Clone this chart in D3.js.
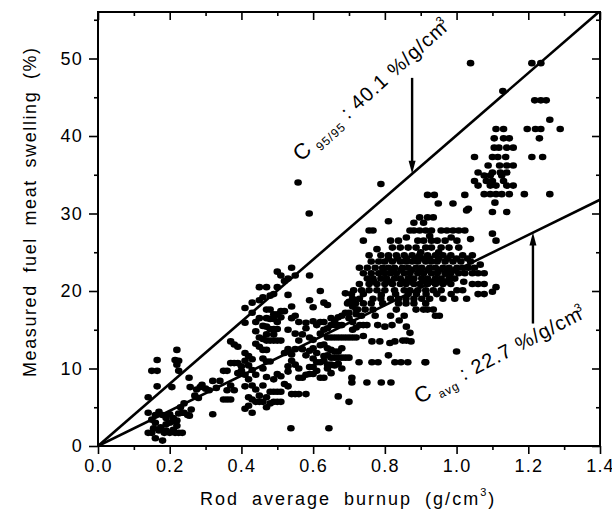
<!DOCTYPE html>
<html>
<head>
<meta charset="utf-8">
<script src="https://cdn.jsdelivr.net/npm/d3@7"></script>
<style>
  body { margin: 0; background: #fff; }
  svg { display: block; }
  text { font-family: "Liberation Sans", Arial, sans-serif; fill: #000; }
</style>
</head>
<body>
<div id="chart"></div>
<script>
// axis ticks
const xTicks = [0.0, 0.2, 0.4, 0.6, 0.8, 1.0, 1.2, 1.4];
const xMinor = [0.1, 0.3, 0.5, 0.7, 0.9, 1.1, 1.3];
const yTicks = [0, 10, 20, 30, 40, 50];
const yMinor = [5, 15, 25, 35, 45, 55];

// fitted lines (%/g/cm3)
const slopeUpper = 40.1;
const slopeAvg = 22.7;

// measured points [burnup, swelling]
const lowBurnup = [
  [0.14,6.3],[0.15,9.7],[0.165,9.7],[0.165,11.1],[0.165,7.7],
  [0.14,4.3],[0.15,3.4],[0.16,4.0],[0.17,4.4],[0.18,4.0],[0.19,3.6],[0.2,4.1],[0.21,3.6],[0.22,3.3],[0.225,4.2],[0.235,4.3],
  [0.16,3.0],[0.175,2.4],[0.19,2.8],[0.2,3.0],[0.21,3.2],[0.22,2.6],
  [0.14,1.7],[0.15,1.7],[0.155,2.3],[0.16,1.0],[0.17,2.0],[0.18,0.7],[0.185,1.7],[0.19,2.0],[0.2,1.7],[0.21,2.1],[0.215,1.7],[0.225,1.7],[0.235,1.7],
  [0.206,7.6],[0.22,12.4],[0.215,11.1],[0.225,11.0],[0.22,10.5],[0.225,9.7],[0.254,8.8],[0.257,7.6],
  [0.24,4.3],[0.25,4.0],[0.26,4.7],[0.24,5.5],[0.23,5.0],[0.255,3.9],[0.27,6.5],[0.28,6.2],[0.285,7.6],[0.275,7.3],
  [0.29,7.9],[0.3,7.4],[0.31,7.2],[0.32,8.4],[0.32,4.1],[0.33,7.5]
];

const midBurnup = [
  [0.34,8.4],[0.35,6.0],[0.36,6.0],[0.37,6.0],[0.36,7.2],[0.37,7.8],[0.38,7.2],[0.35,9.7],[0.36,9.7],[0.37,10.7],[0.38,10.7],[0.39,10.7],
  [0.37,13.5],[0.38,13.1],[0.39,12.8],[0.39,9.4],[0.4,9.7],[0.41,9.2],[0.4,10.3],[0.41,11.0],[0.41,12.0],[0.42,11.6],[0.43,11.2],
  [0.42,10.4],[0.43,9.8],[0.44,9.2],[0.42,8.6],[0.43,7.8],[0.41,7.7],[0.44,7.3],[0.45,6.5],
  [0.41,4.8],[0.42,5.2],[0.43,6.0],[0.44,5.7],[0.45,5.7],[0.46,5.7],[0.43,4.3],[0.42,6.3],
  [0.41,17.8],[0.43,17.2],[0.41,15.9],[0.44,16.0],[0.45,16.5],[0.44,14.8],[0.45,14.0],[0.46,15.5],[0.46,13.8],
  [0.47,13.6],[0.48,13.6],[0.49,13.6],[0.5,13.6],[0.51,13.6],[0.44,13.2],[0.45,12.8],[0.46,12.4],[0.47,12.4],
  [0.43,18.5],[0.45,18.8],[0.46,19.2],[0.45,20.5],[0.47,20.5],[0.48,19.4],[0.49,19.6],[0.47,17.6],[0.48,17.6],
  [0.49,17.0],[0.5,17.0],[0.51,17.4],[0.52,17.4],[0.47,16.5],[0.48,16.4],[0.49,16.4],[0.5,16.0],[0.51,16.6],
  [0.47,15.4],[0.48,15.1],[0.49,15.1],[0.5,15.1],[0.47,14.4],[0.49,14.4],
  [0.46,11.3],[0.47,10.9],[0.48,10.9],[0.46,10.0],[0.47,8.9],[0.49,8.6],[0.46,7.8],[0.48,7.0],[0.49,7.0],[0.5,7.0],
  [0.51,7.0],[0.47,6.3],[0.47,5.0],[0.48,5.5],[0.49,5.7],[0.5,5.7],[0.51,5.7],[0.5,9.3],[0.51,9.0],
  [0.5,22.5],[0.51,22.0],[0.54,23.0],[0.52,21.3],[0.53,21.6],[0.55,22.0],[0.5,20.5],[0.53,19.5],[0.54,18.0],
  [0.53,15.0],[0.55,14.5],[0.54,16.5],[0.55,16.8],[0.52,12.0],[0.53,12.5],[0.54,11.8],[0.55,12.5],[0.54,11.0],
  [0.53,10.3],[0.55,10.5],[0.56,10.0],[0.52,8.0],[0.53,7.7],[0.54,6.7],[0.55,6.7],[0.56,6.7],[0.53,9.6],[0.56,8.8],
  [0.57,8.8],[0.58,9.2],[0.59,9.3],[0.6,9.3],[0.58,6.7],[0.56,13.6],[0.57,14.4],[0.58,15.2],[0.56,16.0],[0.58,15.9],
  [0.59,14.0],[0.6,13.7],[0.59,22.0],[0.59,18.8],[0.6,17.9],[0.6,16.1],[0.61,15.6],[0.57,12.5],[0.58,11.7],[0.59,12.3],
  [0.6,12.6],[0.61,12.0],[0.6,11.3],[0.61,10.8],[0.6,10.2],[0.59,10.2],[0.61,9.7],
  [0.558,34.0],[0.589,30.0],[0.538,2.3]
];

const bandBurnup = [
  [0.62,20.0],[0.63,18.5],[0.64,18.2],[0.62,16.0],[0.63,16.0],[0.62,14.5],[0.63,15.0],[0.64,15.2],[0.65,15.6],[0.66,15.6],
  [0.67,15.6],[0.68,15.6],[0.65,16.5],[0.66,16.2],[0.67,16.6],[0.68,16.8],[0.69,17.2],[0.7,17.2],
  [0.64,14.0],[0.65,14.0],[0.66,14.0],[0.67,14.0],[0.68,14.0],[0.69,14.0],[0.7,14.0],[0.71,14.0],[0.72,14.0],
  [0.62,13.0],[0.63,13.1],[0.64,12.6],[0.65,12.4],[0.66,12.2],[0.67,12.2],[0.68,12.6],
  [0.63,11.6],[0.64,11.7],[0.65,11.4],[0.66,11.4],[0.67,11.4],[0.68,11.4],[0.69,11.4],[0.7,11.4],
  [0.62,10.8],[0.63,11.0],[0.64,10.5],[0.65,10.5],[0.66,10.4],[0.67,10.6],[0.68,10.0],[0.62,8.8],[0.63,8.8],[0.65,9.4],[0.64,10.0],
  [0.69,19.7],[0.7,18.6],[0.71,18.0],[0.72,17.6],[0.7,16.5],[0.71,16.0],[0.72,17.0],[0.71,15.0],[0.72,15.3],
  [0.73,15.6],[0.74,15.6],[0.75,15.6],[0.74,14.2],
  [0.708,8.2],[0.708,8.8],[0.75,8.2],[0.79,8.2],[0.817,8.2],
  [0.728,10.8],[0.764,10.8],[0.781,10.8],[0.828,10.8],[0.845,10.8],[0.864,10.8],[0.912,10.8],
  [0.764,13.5],[0.786,13.5],[0.814,13.3],[0.828,13.5],[0.85,13.6],[0.873,13.5],
  [0.644,2.3],[0.7,5.7],[0.67,6.4],[0.81,11.7],[1.0,12.2]
];

const coreBurnup = [
  [0.756,27.8],[0.767,27.8],[0.87,27.8],[0.881,27.8],[0.897,27.8],[0.914,27.8],[0.93,27.8],[0.957,27.8],[0.973,27.8],[0.99,27.8],[1.006,27.8],[1.023,27.8],
  [0.74,26.5],[0.816,26.5],[0.838,26.5],[0.892,26.5],[0.908,26.5],[0.93,26.5],[0.946,26.5],[0.968,26.5],[1.001,26.5],[1.039,26.7],
  [0.778,25.4],[0.821,25.6],[0.843,25.6],[0.865,25.6],[0.887,25.6],[0.914,25.6],[0.93,25.6],[0.957,25.6],[0.979,25.6],[1.006,25.6],
  [0.756,24.6],[0.789,24.6],[0.81,24.6],[0.832,24.6],[0.854,24.6],[0.876,24.6],[0.897,24.6],[0.919,24.6],[0.941,24.6],[0.962,24.6],[0.984,24.6],[1.017,24.6],[1.044,24.6],
  [0.762,23.8],[0.783,23.8],[0.8,23.8],[0.821,23.8],[0.843,23.8],[0.859,23.8],[0.876,23.8],[0.892,23.8],[0.914,23.8],[0.93,23.8],
  [0.946,23.8],[0.968,23.8],[0.99,23.8],[1.012,23.8],[1.039,23.8],[1.066,23.4],
  [0.729,23.0],[0.751,23.0],[0.773,23.0],[0.794,23.0],[0.81,23.0],[0.827,23.0],[0.849,23.0],[0.865,23.0],[0.887,23.0],
  [0.903,23.0],[0.925,23.0],[0.941,23.0],[0.962,23.0],[0.979,23.0],[1.001,23.0],[1.017,23.0],[1.033,23.0],
  [0.74,22.3],[0.762,22.3],[0.783,22.3],[0.8,22.3],[0.816,22.3],[0.832,22.3],[0.854,22.3],[0.87,22.3],[0.892,22.3],[0.908,22.3],
  [0.93,22.3],[0.946,22.3],[0.968,22.3],[0.984,22.3],[1.006,22.3],[1.023,22.3],[1.044,22.3],[1.06,22.3],[1.077,22.3],
  [0.751,21.6],[0.767,21.6],[0.789,21.6],[0.805,21.6],[0.827,21.6],[0.843,21.6],[0.865,21.6],[0.881,21.6],[0.903,21.6],
  [0.919,21.6],[0.941,21.6],[0.957,21.6],[0.979,21.6],[0.995,21.6],
  [0.729,20.9],[0.756,20.9],[0.778,20.9],[0.8,20.9],[0.821,20.9],[0.843,20.9],[0.859,20.9],[0.881,20.9],[0.897,20.9],
  [0.919,20.9],[0.941,20.9],[0.962,20.9],[0.984,20.9],[1.044,20.9],[1.06,20.9],[1.077,20.9],
  [0.713,20.1],[0.735,20.1],[0.756,20.1],[0.778,20.1],[0.8,20.1],[0.827,20.1],[0.854,20.1],[0.87,20.1],[0.892,20.1],
  [0.914,20.1],[0.935,20.1],[0.957,20.1],[1.001,20.1],[1.017,20.1],
  [0.707,19.6],[0.74,19.6],[0.865,19.6],[1.06,19.6],[1.077,19.6],[1.1,19.9],
  [0.71,19.0],[0.729,19.0],[0.767,19.0],[0.789,19.0],[0.816,19.0],[0.838,19.0],[0.859,19.0],[0.881,19.0],[0.903,19.0],
  [0.925,19.0],[0.962,19.0],[0.995,19.0],[1.028,19.0],
  [0.696,18.4],[0.718,18.4],[0.74,18.4],[0.762,18.4],[0.794,18.4],[0.838,18.4],[0.859,18.4],[0.881,18.4],[0.914,18.4],
  [0.724,17.6],[0.745,17.6],[0.767,17.6],[0.832,17.6],[0.887,17.6],[0.908,17.6],[0.919,17.6],[0.935,17.6],
  [0.735,16.8],[0.773,16.8],[0.816,16.8],[0.854,16.8],[0.941,16.8],[0.952,16.8],
  [0.78,15.6],[0.8,15.4],[0.82,15.6],[0.84,16.2],[0.86,15.4],[0.87,14.6],[0.86,13.6],
  [0.919,32.4],[0.938,32.4],[0.949,31.3],[0.99,31.3],[0.897,29.5],[0.919,29.5],[0.935,29.5],[0.881,28.8],[0.908,28.8],
  [0.789,33.8],[0.81,29.0],[0.914,10.8]
];

// extra points filling the densest part of the core
const coreFill = [
  [0.81,24.2],[0.835,24.2],[0.86,24.2],[0.885,24.2],[0.905,24.2],[0.925,24.2],[0.95,24.2],[0.975,24.2],[1.0,24.2],[1.03,24.2],
  [0.795,22.7],[0.822,22.7],[0.845,22.7],[0.875,22.7],[0.898,22.7],[0.92,22.7],[0.952,22.7],[0.975,22.7],[0.995,22.7],[1.05,23.0],
  [0.77,21.2],[0.812,21.2],[0.85,21.2],[0.873,21.2],[0.91,21.2],[0.93,21.2],[0.95,21.2],[0.97,21.2],[1.02,21.2],
  [0.79,19.5],[0.83,19.6],[0.888,19.6],[0.915,19.6],[0.945,19.6],[0.985,19.6],
  [0.925,27.1],[0.95,25.0],[0.985,26.9],[0.86,26.9],[0.9,25.0]
];

const highBurnup = [
  [1.039,49.4],[1.21,49.4],[1.235,49.4],[1.129,45.8],[1.218,44.6],[1.235,44.6],[1.25,44.6],[1.26,42.1],[1.289,40.9],
  [1.197,40.9],[1.22,40.9],[1.235,40.9],[1.231,39.7],[1.21,37.3],[1.24,37.3],[1.189,32.5],[1.26,32.5],
  [1.11,40.9],[1.131,40.9],[1.105,39.7],[1.131,39.7],[1.147,39.7],[1.105,38.5],[1.118,38.5],[1.14,38.5],[1.158,38.5],
  [1.05,37.3],[1.1,37.3],[1.115,37.3],[1.137,37.3],[1.088,36.2],[1.12,36.2],[1.14,36.2],[1.158,36.2],
  [1.06,35.3],[1.1,35.3],[1.122,35.3],[1.14,35.3],[1.077,34.9],[1.094,34.9],[1.126,34.9],
  [1.05,34.2],[1.083,34.2],[1.1,34.2],[1.131,34.2],[1.06,33.6],[1.094,33.6],[1.11,33.6],[1.14,33.6],[1.158,33.6],
  [1.077,32.5],[1.094,32.5],[1.11,32.5],[1.126,32.5],[1.147,32.5],[1.023,32.4],[1.107,31.4],
  [1.028,30.4],[1.033,30.6],[1.1,30.2],[1.14,30.2],[1.1,27.4],[1.11,26.5],[1.11,20.5]
];

const W = 612, H = 514;
const svg = d3.select("#chart").append("svg")
  .attr("width", W).attr("height", H);

const x = d3.scaleLinear().domain([0, 1.4]).range([98, 600]);
const y = d3.scaleLinear().domain([0, 56]).range([446, 12]);

// ticks
const tickText = g => g.selectAll("text")
  .attr("font-size", 18).attr("letter-spacing", 1.2).attr("fill", "#000");

svg.append("g").attr("transform", "translate(0,446)")
  .call(d3.axisBottom(x).tickValues(xTicks).tickSize(8).tickPadding(5).tickFormat(d3.format(".1f")))
  .call(tickText).call(g => g.select(".domain").remove());
svg.append("g").attr("transform", "translate(0,446)")
  .call(d3.axisBottom(x).tickValues(xMinor).tickSize(4).tickFormat(""))
  .call(g => g.select(".domain").remove());
svg.append("g").attr("transform", "translate(0,12)")
  .call(d3.axisTop(x).tickValues(xTicks).tickSize(-8).tickFormat(""))
  .call(g => g.select(".domain").remove());
svg.append("g").attr("transform", "translate(0,12)")
  .call(d3.axisTop(x).tickValues(xMinor).tickSize(-4).tickFormat(""))
  .call(g => g.select(".domain").remove());

svg.append("g").attr("transform", "translate(98,0)")
  .call(d3.axisLeft(y).tickValues(yTicks).tickSize(9).tickPadding(6))
  .call(tickText).call(g => g.select(".domain").remove());
svg.append("g").attr("transform", "translate(98,0)")
  .call(d3.axisLeft(y).tickValues(yMinor).tickSize(4).tickFormat(""))
  .call(g => g.select(".domain").remove());
svg.append("g").attr("transform", "translate(600,0)")
  .call(d3.axisRight(y).tickValues(yTicks).tickSize(-8).tickFormat(""))
  .call(g => g.select(".domain").remove());
svg.append("g").attr("transform", "translate(600,0)")
  .call(d3.axisRight(y).tickValues(yMinor).tickSize(-4).tickFormat(""))
  .call(g => g.select(".domain").remove());

svg.selectAll(".tick line").attr("stroke", "#000").attr("stroke-width", 1.6);

// frame
svg.append("rect")
  .attr("x", 98).attr("y", 12).attr("width", 502).attr("height", 434)
  .attr("fill", "none").attr("stroke", "#000").attr("stroke-width", 2);

// points
const allPts = [].concat(lowBurnup, midBurnup, bandBurnup, coreBurnup, coreFill, highBurnup);
svg.append("g").selectAll("ellipse")
  .data(allPts).enter().append("ellipse")
  .attr("cx", d => x(d[0]))
  .attr("cy", d => y(d[1]))
  .attr("rx", 3.8).attr("ry", 3.3)
  .attr("fill", "#000");

// fitted lines through origin
svg.append("clipPath").attr("id", "plotclip")
  .append("rect").attr("x", 98).attr("y", 12).attr("width", 502).attr("height", 434);
const lineFunc = d3.line().x(d => x(d[0])).y(d => y(d[1]));
[slopeUpper, slopeAvg].forEach(k => {
  const xEnd = Math.min(1.4, 56 / k);
  svg.append("path")
    .attr("d", lineFunc([[0, 0], [xEnd, k * xEnd]]))
    .attr("stroke", "#000").attr("stroke-width", 2.6)
    .attr("fill", "none").attr("clip-path", "url(#plotclip)");
});

// arrows
const drawArrow = (xv, yFrom, yTo) => {
  const x0 = x(xv), y0 = y(yFrom), y1 = y(yTo);
  const dir = y1 > y0 ? 1 : -1;
  svg.append("line")
    .attr("x1", x0).attr("y1", y0).attr("x2", x0).attr("y2", y1 - dir * 8)
    .attr("stroke", "#000").attr("stroke-width", 2.4);
  svg.append("path")
    .attr("d", `M${x0},${y1} L${x0 - 3.5},${y1 - dir * 13} L${x0 + 3.5},${y1 - dir * 13} Z`)
    .attr("fill", "#000");
};
drawArrow(0.876, 47.5, slopeUpper * 0.876);
drawArrow(1.213, 15.8, slopeAvg * 1.213);

// annotations
const label = (xv, yv, angle, sub, rest) => {
  const t = svg.append("text")
    .attr("transform", `translate(${x(xv)},${y(yv)}) rotate(${angle})`)
    .attr("letter-spacing", 1);
  t.append("tspan").attr("font-size", 22).text("C");
  t.append("tspan").attr("font-size", 12).attr("dx", 5).attr("dy", 5).text(sub);
  t.append("tspan").attr("font-size", 20).attr("dy", -5).text(" : " + rest);
  t.append("tspan").attr("font-size", 12).attr("dx", -4).attr("dy", -8).text("3");
};
label(0.566, 36.6, -42, "95/95", "40.1 %/g/cm");
label(0.895, 5.4, -27.5, "avg", "22.7 %/g/cm");

// axis titles
const xt = svg.append("text")
  .attr("x", 200).attr("y", 505)
  .attr("font-size", 18).attr("letter-spacing", 2).attr("word-spacing", 6);
xt.append("tspan").text("Rod average burnup (g/cm");
xt.append("tspan").attr("font-size", 11).attr("dy", -9).text("3");
xt.append("tspan").attr("dy", 9).text(")");

svg.append("text")
  .attr("transform", "translate(36,377) rotate(-90)")
  .attr("font-size", 18).attr("letter-spacing", 1.6).attr("word-spacing", 5)
  .text("Measured fuel meat swelling (%)");
</script>
</body>
</html>
